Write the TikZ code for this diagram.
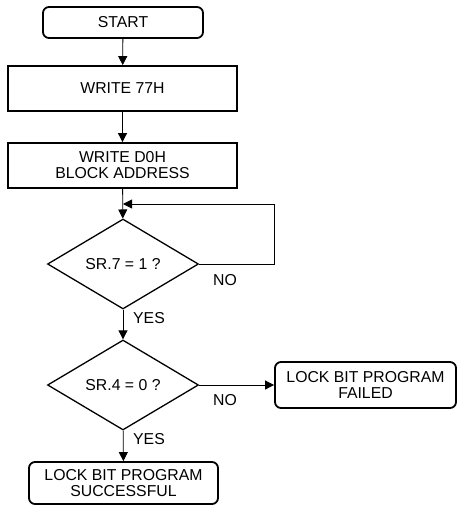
\documentclass[tikz,border=0pt]{standalone}
\usepackage{fontspec}
\setmainfont{Liberation Sans}
\usetikzlibrary{shapes.geometric,arrows.meta}
\begin{document}
\begin{tikzpicture}[x=1pt,y=-1pt,
  font=\fontsize{15.8}{16}\selectfont,
  box/.style={draw,line width=1.8pt,inner sep=0pt,align=center},
  rbox/.style={box,rounded corners=6pt},
  dec/.style={draw,diamond,line width=1.3pt,inner sep=0pt,aspect=1.68},
  arr/.style={line width=0.8pt,-{Triangle[length=9pt,width=9pt]}},
  lbl/.style={inner sep=0pt}]
\useasboundingbox (0,0) rectangle (457,506);
\node[rbox,minimum width=160pt,minimum height=31pt] (start) at (123,22.5) {START};
\node[box,minimum width=229pt,minimum height=45pt] (w77) at (122.5,88.5) {WRITE 77H};
\node[box,minimum width=229pt,minimum height=45pt] (wd0) at (122.5,165.5) {WRITE D0H\\BLOCK ADDRESS};
\node[dec,minimum width=151pt,minimum height=90pt] (d1) at (123,264) {SR.7 = 1 ?};
\node[dec,minimum width=151pt,minimum height=90pt] (d2) at (123,385) {SR.4 = 0 ?};
\node[rbox,minimum width=181pt,minimum height=46pt] (fail) at (365.5,385) {LOCK BIT PROGRAM\\FAILED};
\node[rbox,minimum width=189pt,minimum height=42pt] (succ) at (123.5,483) {LOCK BIT PROGRAM\\SUCCESSFUL};
\coordinate (merge) at (123,204);
\draw[arr] (start) -- (w77);
\draw[arr] (w77) -- (wd0);
\draw[arr] (wd0) -- (d1);
\draw[arr] (d1.east) -- ++(75,0) |- (merge);
\draw[arr] (d1) -- (d2);
\draw[arr] (d2.east) -- (fail.west);
\draw[arr] (d2) -- (succ);
\node[lbl] (no1) at (225,280) {NO};
\node[lbl] (yes1) at (149,318) {YES};
\node[lbl] (no2) at (225,400) {NO};
\node[lbl] (yes2) at (149,439) {YES};
\end{tikzpicture}
\end{document}
